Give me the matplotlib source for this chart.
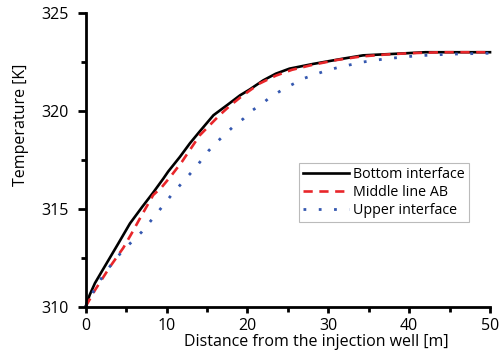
import numpy as np
import matplotlib.pyplot as plt
from matplotlib.ticker import MultipleLocator

plt.rcParams['font.family'] = ['Open Sans', 'DejaVu Sans']

# Temperature profiles
x_bottom = [0, 0.5, 1.15, 2, 3, 4, 5.48, 7, 8.3, 9.6, 10.2, 11.65, 12.9, 14.1, 15.8, 17.5,
            19.1, 20.3, 21.95, 23.5, 25.2, 28.1, 31.8, 34.3, 38.8, 42, 46, 50]
t_bottom = [310, 310.6, 311.2, 311.8, 312.5, 313.2, 314.25, 315.1, 315.8, 316.54, 316.9, 317.65,
            318.35, 318.95, 319.78, 320.3, 320.8, 321.1, 321.56, 321.9, 322.16, 322.4, 322.67,
            322.84, 322.93, 323.0, 323.0, 323.0]

x_middle = [0, 1.15, 3.0, 4.65, 5.7, 6.7, 8.35, 9.4, 10.6, 11.9, 14.1, 16.6, 17.8, 19.3, 21.5,
            23.5, 25.5, 28, 31, 34, 37, 40, 44, 50]
t_middle = [310, 310.84, 312.03, 313.0, 313.75, 314.5, 315.7, 316.1, 316.7, 317.4, 318.75, 319.8,
            320.25, 320.75, 321.4, 321.8, 322.1, 322.35, 322.6, 322.78, 322.88, 322.95, 323.0, 323.0]

x_upper = [0, 1.36, 2.8, 4.45, 6.9, 8.8, 10.6, 12.5, 13.5, 15.15, 16.2, 18.25, 19.5, 20.5, 21.75,
           22.8, 24.4, 26.9, 29.8, 31.4, 34.3, 37.2, 41, 45, 50]
t_upper = [310, 311.1, 311.95, 312.8, 313.8, 314.76, 315.7, 316.6, 317.05, 317.94, 318.4, 319.2,
           319.6, 320.0, 320.34, 320.7, 321.1, 321.65, 322.07, 322.24, 322.5, 322.67, 322.82,
           322.9, 322.95]

fig = plt.figure(figsize=(4.99, 3.54), dpi=100)
ax = fig.add_axes([0.1717, 0.134, 0.8103, 0.829])

ax.plot(x_bottom, t_bottom, color='black', lw=1.9, label='Bottom interface', clip_on=False)
ax.plot(x_middle, t_middle, color='#e8262a', lw=1.9, ls=(0, (3.5, 2.5)), label='Middle line AB',
        clip_on=False)
ax.plot(x_upper, t_upper, color='#3558b0', lw=2, ls=(0, (1, 4.5)), label='Upper interface',
        clip_on=False)

ax.set_xlim(0, 50)
ax.set_ylim(310, 325)
ax.xaxis.set_major_locator(MultipleLocator(10))
ax.xaxis.set_minor_locator(MultipleLocator(5))
ax.yaxis.set_major_locator(MultipleLocator(5))
ax.yaxis.set_minor_locator(MultipleLocator(2.5))

for side in ['top', 'right']:
    ax.spines[side].set_visible(False)
for side in ['left', 'bottom']:
    ax.spines[side].set_linewidth(2)

ax.tick_params(axis='x', which='major', length=4, width=2, pad=4, labelsize=11.5)
ax.tick_params(axis='x', which='minor', length=3.5, width=2)
ax.tick_params(axis='y', which='major', length=6, width=2, pad=6, labelsize=11.5)
ax.tick_params(axis='y', which='minor', length=3.5, width=2)

ax.set_xlabel('Distance from the injection well [m]', fontsize=11.5, labelpad=0)
ax.xaxis.set_label_coords(0.57, -0.095)
ax.set_ylabel('Temperature [K]', fontsize=11.5)
ax.yaxis.set_label_coords(-0.14, 0.62)

leg = ax.legend(loc='upper left', bbox_to_anchor=(0.527, 0.49), fontsize=10.3, frameon=True,
                fancybox=False, handlelength=3.2, handletextpad=0.3, borderpad=0.3,
                labelspacing=0.2, borderaxespad=0)
leg.get_frame().set_edgecolor('#aaaaaa')
leg.get_frame().set_linewidth(0.8)

fig.savefig('out.png', dpi=100)
